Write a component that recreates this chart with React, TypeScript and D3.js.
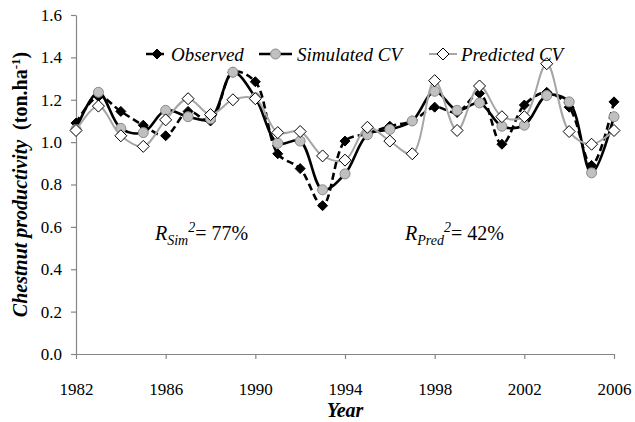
import React, { useEffect, useRef } from 'react';
import * as d3 from 'd3';

// values
const years = d3.range(1982, 2007);
const observed = [1.09, 1.215, 1.145, 1.08, 1.03, 1.145, 1.10, 1.33, 1.285, 0.945, 0.875, 0.70, 1.005, 1.04, 1.075, 1.10, 1.165, 1.14, 1.23, 0.99, 1.175, 1.235, 1.165, 0.89, 1.19];
const simulated = [1.06, 1.235, 1.065, 1.045, 1.15, 1.12, 1.11, 1.33, 1.21, 0.995, 1.005, 0.775, 0.85, 1.035, 1.06, 1.10, 1.24, 1.15, 1.185, 1.075, 1.08, 1.22, 1.19, 0.855, 1.12];
const predicted = [1.055, 1.17, 1.03, 0.98, 1.105, 1.205, 1.13, 1.20, 1.205, 1.045, 1.05, 0.935, 0.915, 1.07, 1.005, 0.945, 1.29, 1.055, 1.265, 1.12, 1.12, 1.37, 1.05, 0.99, 1.055];
const xTicks = [1982, 1986, 1990, 1994, 1998, 2002, 2006];
const yTicks = [0, 0.2, 0.4, 0.6, 0.8, 1.0, 1.2, 1.4, 1.6];
const legendLabels = ['Observed', 'Simulated CV', 'Predicted CV'];

const FONT = "'Liberation Serif', 'Times New Roman', 'Liberation Sans', Arial, sans-serif";
const AXIS_GRAY = '#868686';

function App() {
  const svgRef = useRef<SVGSVGElement>(null);

  useEffect(() => {
    const svg = d3.select(svgRef.current);
    svg.selectAll('*').remove();

    const width = 635;
    const height = 422;
    const plot = { left: 76, right: 614, top: 15, bottom: 354 };

    const x = d3.scaleLinear().domain([1982, 2006]).range([plot.left, plot.right]);
    const y = d3.scaleLinear().domain([0, 1.6]).range([plot.bottom, plot.top]);

    svg.attr('width', width).attr('height', height).attr('font-family', FONT);

    // axes
    const yAxis = svg.append('g')
      .attr('transform', `translate(${plot.left},0)`)
      .call(d3.axisLeft(y).tickValues(yTicks).tickFormat(d3.format('.1f')).tickSize(5).tickSizeOuter(0).tickPadding(9));
    const xAxis = svg.append('g')
      .attr('transform', `translate(0,${plot.bottom})`)
      .call(d3.axisBottom(x).tickValues(xTicks).tickFormat(d3.format('d')).tickSize(5).tickSizeOuter(0).tickPadding(24));
    [xAxis, yAxis].forEach(g => {
      g.attr('font-family', FONT).attr('font-size', 17);
      g.select('.domain').attr('stroke', AXIS_GRAY).attr('stroke-width', 1.2);
      g.selectAll('.tick line').attr('stroke', AXIS_GRAY).attr('stroke-width', 1.2);
      g.selectAll('.tick text').attr('fill', '#000');
    });

    // axis titles
    const yTitle = svg.append('text')
      .attr('transform', `translate(27,${(plot.top + plot.bottom) / 2}) rotate(-90)`)
      .attr('text-anchor', 'middle')
      .attr('font-size', 20)
      .attr('font-weight', 'bold');
    yTitle.append('tspan').attr('font-style', 'italic').text('Chestnut productivity');
    yTitle.append('tspan').text('\u00a0 (ton.ha');
    yTitle.append('tspan').attr('dy', -7).attr('font-size', 13).text('-1');
    yTitle.append('tspan').attr('dy', 7).text(')');

    svg.append('text')
      .attr('x', (plot.left + plot.right) / 2)
      .attr('y', 417)
      .attr('text-anchor', 'middle')
      .attr('font-size', 20)
      .attr('font-weight', 'bold')
      .attr('font-style', 'italic')
      .text('Year');

    // series
    const line = d3.line<number>()
      .x((d, i) => x(years[i]))
      .y(d => y(d))
      .curve(d3.curveCatmullRom.alpha(0.5));

    const diamond = (r: number) => `M0,${-r}L${r},0L0,${r}L${-r},0Z`;

    const series = [
      { name: legendLabels[0], values: observed, stroke: '#000', width: 2.6, dash: '7,4', marker: 'diamond', r: 5, fill: '#000', mstroke: '#000' },
      { name: legendLabels[1], values: simulated, stroke: '#000', width: 2.6, dash: null, marker: 'circle', r: 5, fill: '#c0c0c0', mstroke: '#8a8a8a' },
      { name: legendLabels[2], values: predicted, stroke: '#a6a6a6', width: 2, dash: null, marker: 'diamond', r: 6, fill: '#fff', mstroke: '#000' },
    ];

    const drawMarker = (g: any, s: any, cx: number, cy: number) => {
      if (s.marker === 'circle') {
        g.append('circle').attr('cx', cx).attr('cy', cy).attr('r', s.r)
          .attr('fill', s.fill).attr('stroke', s.mstroke).attr('stroke-width', 1);
      } else {
        g.append('path').attr('d', diamond(s.r)).attr('transform', `translate(${cx},${cy})`)
          .attr('fill', s.fill).attr('stroke', s.mstroke).attr('stroke-width', 1);
      }
    };

    series.forEach(s => {
      const g = svg.append('g');
      g.append('path')
        .datum(s.values)
        .attr('fill', 'none')
        .attr('stroke', s.stroke)
        .attr('stroke-width', s.width)
        .attr('stroke-dasharray', s.dash)
        .attr('d', line);
      s.values.forEach((v, i) => drawMarker(g, s, x(years[i]), y(v)));
    });

    // legend
    const legendY = 54;
    const legendItems = [
      { lineX: [146, 168], textX: 171 },
      { lineX: [259, 292], textX: 297 },
      { lineX: [429, 457], textX: 461 },
    ];
    series.forEach((s, i) => {
      const it = legendItems[i];
      const g = svg.append('g');
      g.append('line')
        .attr('x1', it.lineX[0]).attr('x2', it.lineX[1])
        .attr('y1', legendY).attr('y2', legendY)
        .attr('stroke', s.stroke).attr('stroke-width', s.width)
        .attr('stroke-dasharray', s.dash);
      drawMarker(g, s, (it.lineX[0] + it.lineX[1]) / 2, legendY);
      g.append('text')
        .attr('x', it.textX).attr('y', legendY + 7)
        .attr('font-size', 19).attr('font-style', 'italic')
        .text(s.name);
    });

    // R² annotations
    const addR = (xPos: number, sub: string, value: string) => {
      const t = svg.append('text').attr('x', xPos).attr('y', 240).attr('font-size', 20);
      t.append('tspan').attr('font-style', 'italic').text('R');
      t.append('tspan').attr('dy', 5).attr('font-style', 'italic').attr('font-size', 14).text(sub);
      t.append('tspan').attr('dy', -13).attr('font-style', 'italic').attr('font-size', 14).text('2');
      t.append('tspan').attr('dy', 8).text(`= ${value}`);
    };
    addR(155, 'Sim', '77%');
    addR(405, 'Pred', '42%');
  }, []);

  return (
    <svg ref={svgRef} style={{ position: 'absolute', left: 0, top: 0, background: '#fff' }}></svg>
  );
}

export default App;
